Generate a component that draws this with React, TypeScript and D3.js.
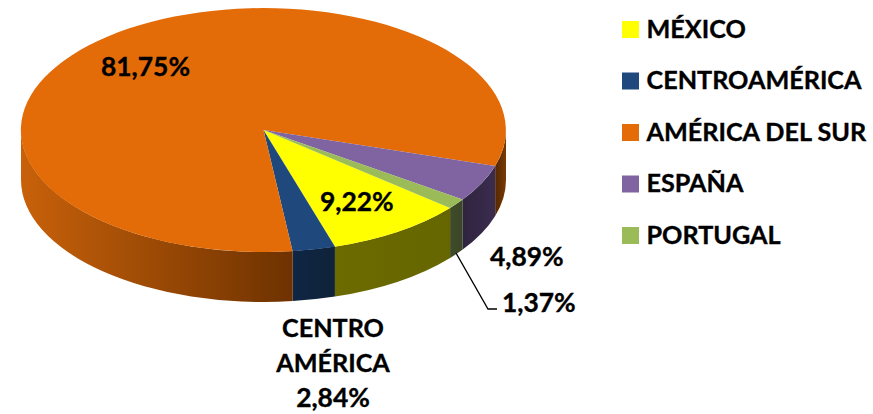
import React from 'react'
import * as d3 from 'd3'

const categories = ['MÉXICO', 'CENTROAMÉRICA', 'AMÉRICA DEL SUR', 'ESPAÑA', 'PORTUGAL']
const shares = [9.22, 2.84, 81.75, 4.89, 1.37]
const labels = ['9,22%', '2,84%', '81,75%', '4,89%', '1,37%']
const topColors = ['#ffff00', '#1f497d', '#e36c09', '#8064a2', '#9bbb59']
// side wall shading, left colour -> right colour
const wallColors = [
  ['#6b6b00', '#666600'],
  ['#0f2644', '#0f2238'],
  ['#c8610a', '#6e3200'],
  ['#2f2440', '#3b2c4d'],
  ['#3f4c28', '#3a4626'],
]
const orangeRightWall = ['#552700', '#7a3a04']

const width = 873, height = 414
const cx = 263.5, cy = 130, rx = 242.5, ry = 122, depth = 50
const font = 'Lato, sans-serif'
const firstAngle = (129.7 * Math.PI) / 180

const pie = d3.pie<number>().sort(null).startAngle(firstAngle).endAngle(firstAngle + 2 * Math.PI)
const arcs = pie(shares)
const unitArc = d3.arc<d3.PieArcDatum<number>>().innerRadius(0).outerRadius(1)

// d3 angle -> point on the top ellipse
const px = (a: number) => cx + rx * Math.sin(a)
const py = (a: number) => cy - ry * Math.cos(a)

// the front of the pie runs from 90deg to 270deg in d3 angles
function wallPath(a0: number, a1: number) {
  return `M${px(a0)},${py(a0)} A${rx},${ry} 0 0 1 ${px(a1)},${py(a1)}` +
    ` L${px(a1)},${py(a1) + depth} A${rx},${ry} 0 0 0 ${px(a0)},${py(a0) + depth} Z`
}

function visibleParts(a0: number, a1: number) {
  const parts: [number, number][] = []
  for (const k of [0, 1]) {
    const lo = Math.PI / 2 + k * 2 * Math.PI
    const hi = (3 * Math.PI) / 2 + k * 2 * Math.PI
    const s = Math.max(a0, lo), e = Math.min(a1, hi)
    if (e > s) parts.push([s, e])
  }
  return parts
}

const legendY = d3.scalePoint<string>().domain(categories).range([29.5, 235.5])

export default function App() {
  React.useEffect(() => {
    document.body.style.margin = '0'
  }, [])

  const walls = arcs.flatMap((d, i) =>
    visibleParts(d.startAngle, d.endAngle).map(([s, e], j) => {
      const colors = i === 2 && s > 2 * Math.PI ? orangeRightWall : wallColors[i]
      return { id: `wall${i}-${j}`, s, e, colors }
    })
  )

  return (
    <svg
      width={width}
      height={height}
      style={{ display: 'block' }}
      fontFamily={font}
      fontWeight={700}
      fill="#000"
      stroke="#000"
      strokeWidth={0.35}
    >
      <defs>
        {walls.map(w => (
          <linearGradient
            key={w.id}
            id={w.id}
            gradientUnits="userSpaceOnUse"
            x1={Math.min(px(w.s), px(w.e))}
            x2={Math.max(px(w.s), px(w.e))}
            y1={0}
            y2={0}
          >
            <stop offset="0" stopColor={w.colors[0]} />
            <stop offset="1" stopColor={w.colors[1]} />
          </linearGradient>
        ))}
      </defs>

      {walls.map(w => (
        <path key={w.id} d={wallPath(w.s, w.e)} fill={`url(#${w.id})`} stroke="none" />
      ))}

      <g transform={`translate(${cx},${cy}) scale(${rx},${ry})`}>
        {arcs.map((d, i) => (
          <path key={i} d={unitArc(d) || ''} fill={topColors[i]} stroke="none" />
        ))}
      </g>

      <path d="M456,253 L488,309 L497,309" fill="none" stroke="#000" strokeWidth={1.3} />

      <g fontSize={26.4}>
        <text x={101} y={76}>{labels[2]}</text>
        <text x={320} y={211}>{labels[0]}</text>
        <text x={490} y={266}>{labels[3]}</text>
        <text x={502} y={312}>{labels[4]}</text>
        <text x={333} y={407} textAnchor="middle">{labels[1]}</text>
      </g>
      <g fontSize={25.2}>
        <text x={333} y={337} textAnchor="middle">CENTRO</text>
        <text x={333} y={372} textAnchor="middle">AMÉRICA</text>
      </g>

      <g fontSize={25.2}>
        {categories.map((c, i) => (
          <g key={c} transform={`translate(622,${legendY(c)})`}>
            <rect y={-8.5} width={17} height={17} fill={topColors[i]} stroke="none" />
            <text x={24.5} y={8}>{c}</text>
          </g>
        ))}
      </g>
    </svg>
  )
}
